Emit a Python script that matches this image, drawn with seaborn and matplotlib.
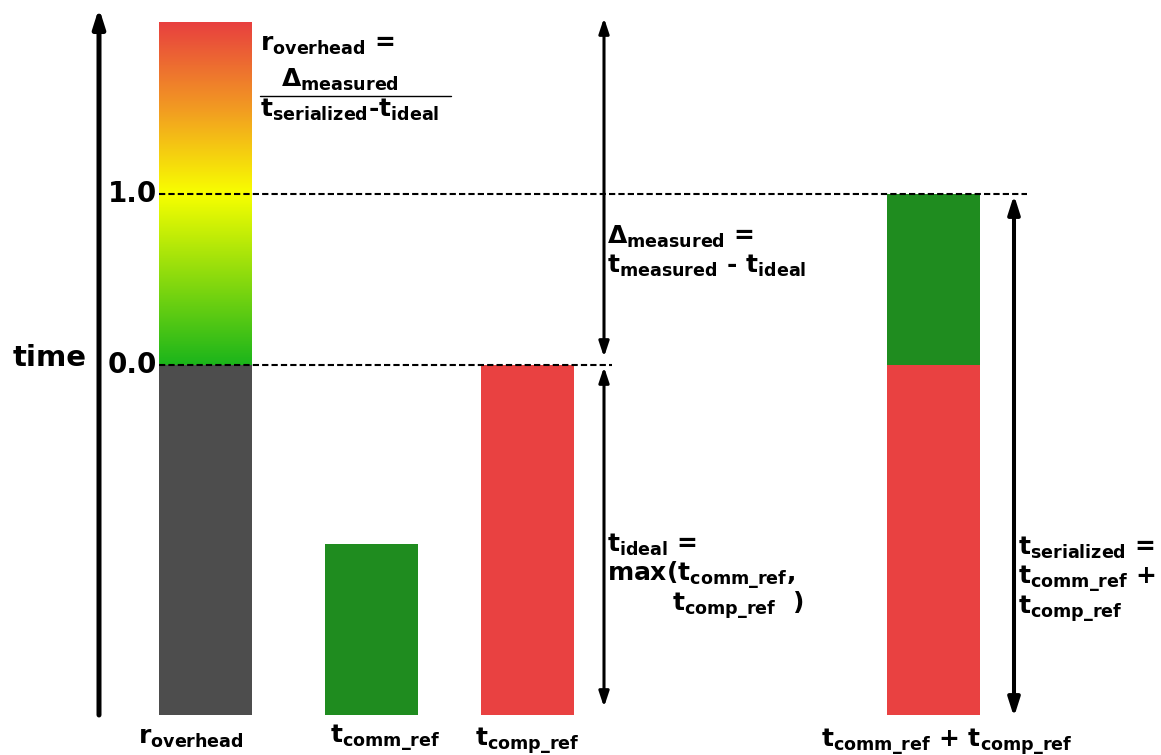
import matplotlib
matplotlib.use("Agg")
import matplotlib.pyplot as plt
import seaborn as sns
import pandas as pd
import numpy as np
from matplotlib.colors import LinearSegmentedColormap

# chart values (time units, bars start at 0)
bar_labels = [r"$r_{overhead}$", r"$t_{comm\_ref}$", r"$t_{comp\_ref}$",
              r"$t_{comm\_ref}$ + $t_{comp\_ref}$"]
t_comm_ref = 0.98
t_comp_ref = 2.0
r_ticks = [0.0, 1.0]
r_tick_labels = ["0.0", "1.0"]
r_overhead_max = 2.0

t_ideal = max(t_comm_ref, t_comp_ref)
t_serialized = t_comm_ref + t_comp_ref


def r_to_t(r):
    return t_ideal + r * (t_serialized - t_ideal)


# colours
GRAY = "#4d4d4d"
GREEN = "#1f8c1f"
RED = "#e94141"
grad_cmap = LinearSegmentedColormap.from_list(
    "overhead", [(0.0, "#1bb51b"), (0.5, "#f8ff00"), (0.75, "#f29a22"), (1.0, "#e8403f")])

sns.set_theme(style="white")
plt.rcParams["font.family"] = ["DejaVu Sans"]
plt.rcParams["mathtext.fontset"] = "dejavusans"
plt.rcParams["mathtext.default"] = "bf"
plt.rcParams["text.color"] = "black"

fig = plt.figure(figsize=(11.61, 7.55), dpi=100)
ax = fig.add_axes([0, 0, 1, 1])

PX = 175.0  # pixels per time unit


def yd(p):
    # pixel row -> data y
    return (715 - p) / PX


# bars
bar_x = [205.5, 371.5, 527.5, 933.0]
bar_w = 93.0
df = pd.DataFrame({
    "pos": bar_x,
    "height": [t_ideal, t_comm_ref, t_comp_ref, t_comp_ref],
    "part": ["base", "comm", "comp", "comp"],
})
sns.barplot(data=df, x="pos", y="height", hue="part", native_scale=True,
            palette={"base": GRAY, "comm": GREEN, "comp": RED},
            width=bar_w / (bar_x[2] - bar_x[1]), dodge=False, saturation=1,
            linewidth=0, legend=False, ax=ax)
# stacked top of last bar
ax.bar(bar_x[3], t_comm_ref, bottom=t_comp_ref, width=bar_w, color=GREEN, linewidth=0)

# gradient part of r_overhead bar
grad = np.linspace(0, 1, 256).reshape(-1, 1)
ax.imshow(grad, cmap=grad_cmap, aspect="auto", origin="lower",
          extent=[bar_x[0] - bar_w / 2, bar_x[0] + bar_w / 2,
                  r_to_t(0.0), r_to_t(r_overhead_max)], zorder=2)

# dashed reference lines
ax.plot([159, 1027], [r_to_t(1.0)] * 2, color="black", lw=1.5, ls=(0, (3, 1.5)), zorder=3)
ax.plot([159, 612], [r_to_t(0.0)] * 2, color="black", lw=1.5, ls=(0, (3, 1.5)), zorder=3)

# tick labels
for r, lab in zip(r_ticks, r_tick_labels):
    ax.text(157, r_to_t(r), lab, ha="right", va="center", fontsize=20,
            fontweight="bold", color="black")
ax.text(50, yd(358), "time", ha="center", va="center", fontsize=21,
        fontweight="bold", color="black")

# arrows
ax.annotate("", xy=(99, yd(8)), xytext=(99, 0),
            arrowprops=dict(arrowstyle="-|>,head_width=0.35,head_length=1.1",
                            mutation_scale=10, lw=3.6, color="black",
                            shrinkA=0, shrinkB=0))
ax.annotate("", xy=(604, yd(18)), xytext=(604, yd(357)),
            arrowprops=dict(arrowstyle="<|-|>,head_width=0.3,head_length=0.9",
                            mutation_scale=10, lw=2.2, color="black",
                            shrinkA=0, shrinkB=0))
ax.annotate("", xy=(604, yd(367)), xytext=(604, yd(707)),
            arrowprops=dict(arrowstyle="<|-|>,head_width=0.3,head_length=0.9",
                            mutation_scale=10, lw=2.2, color="black",
                            shrinkA=0, shrinkB=0))
ax.annotate("", xy=(1014, yd(195)), xytext=(1014, yd(717)),
            arrowprops=dict(arrowstyle="<|-|>,head_width=0.35,head_length=1.1",
                            mutation_scale=10, lw=2.9, color="black",
                            shrinkA=0, shrinkB=0))

# annotation texts
FS = 18
kw = dict(fontsize=FS, fontweight="bold", va="center", color="black")
ax.text(260, yd(45), r"$r_{overhead}$ =", ha="left", **kw)
ax.text(340, yd(80), r"$\Delta_{measured}$", ha="center", **kw)
ax.plot([260, 451], [yd(96)] * 2, color="black", lw=1)
ax.text(260, yd(110), r"$t_{serialized}$-$t_{ideal}$", ha="left", **kw)

ax.text(607, yd(237), r"$\Delta_{measured}$ =", ha="left", **kw)
ax.text(607, yd(266), r"$t_{measured}$ - $t_{ideal}$", ha="left", **kw)

ax.text(607, yd(545), r"$t_{ideal}$ =", ha="left", **kw)
ax.text(607, yd(574), r"max($t_{comm\_ref}$,", ha="left", **kw)
ax.text(672, yd(605), r"$t_{comp\_ref}$  )", ha="left", **kw)

ax.text(1018, yd(548), r"$t_{serialized}$ =", ha="left", **kw)
ax.text(1018, yd(578), r"$t_{comm\_ref}$ +", ha="left", **kw)
ax.text(1018, yd(608), r"$t_{comp\_ref}$", ha="left", **kw)

# category labels under bars
label_y = [738, 737, 740, 741]
label_x = [191, 385, 527, 947]
for lx, ly, lab in zip(label_x, label_y, bar_labels):
    ax.text(lx, yd(ly), lab, ha="center", **kw)

ax.set_xlim(0, 1161)
ax.set_ylim(yd(755), yd(0))
ax.axis("off")

fig.savefig("out.png", dpi=100)
